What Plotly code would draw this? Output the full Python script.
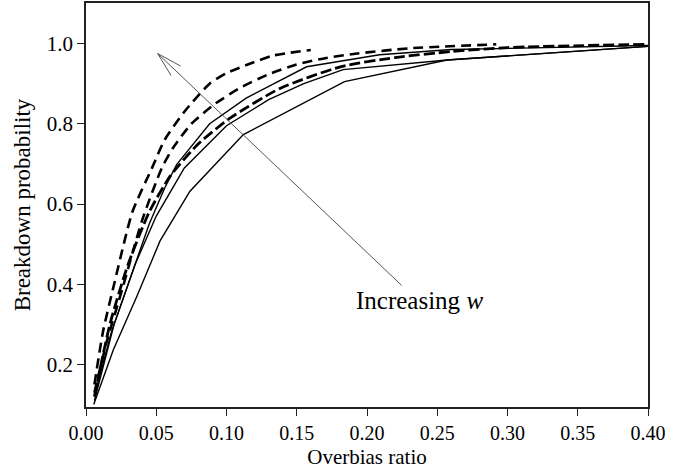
import plotly.graph_objects as go

# ---- data ----
A_x = [0.006, 0.012, 0.020, 0.033, 0.047, 0.056, 0.070, 0.088, 0.100, 0.117, 0.133, 0.160]
A_y = [0.15, 0.28, 0.40, 0.58, 0.69, 0.76, 0.83, 0.90, 0.926, 0.950, 0.970, 0.984]

B_x = [0.006, 0.015, 0.026, 0.040, 0.054, 0.062, 0.075, 0.092, 0.110, 0.129, 0.150, 0.171, 0.193, 0.230, 0.292]
B_y = [0.13, 0.26, 0.39, 0.56, 0.69, 0.74, 0.80, 0.85, 0.89, 0.922, 0.948, 0.964, 0.975, 0.988, 0.998]

C_x = [0.006, 0.018, 0.030, 0.045, 0.056, 0.0645, 0.088, 0.114, 0.157, 0.209, 0.260, 0.400]
C_y = [0.12, 0.28, 0.40, 0.55, 0.64, 0.698, 0.80, 0.864, 0.942, 0.972, 0.985, 0.995]

D_x = [0.006, 0.017, 0.030, 0.045, 0.060, 0.080, 0.1025, 0.138, 0.181, 0.220, 0.260, 0.300, 0.400]
D_y = [0.12, 0.30, 0.45, 0.58, 0.67, 0.75, 0.814, 0.888, 0.942, 0.965, 0.980, 0.990, 0.998]

E_x = [0.006, 0.020, 0.035, 0.050, 0.070, 0.100, 0.130, 0.155, 0.183, 0.257, 0.400]
E_y = [0.11, 0.30, 0.45, 0.57, 0.69, 0.795, 0.86, 0.90, 0.935, 0.959, 0.993]

F_x = [0.0055, 0.0194, 0.036, 0.0527, 0.074, 0.112, 0.184, 0.257, 0.400]
F_y = [0.10, 0.236, 0.368, 0.508, 0.632, 0.773, 0.905, 0.959, 0.993]

X_TICKS = [0.00, 0.05, 0.10, 0.15, 0.20, 0.25, 0.30, 0.35, 0.40]
Y_TICKS = [0.2, 0.4, 0.6, 0.8, 1.0]

# arrow: tail -> head, then barbs
ARROW_X = [0.2247, 0.0510, 0.0606, None, 0.0510, 0.0673]
ARROW_Y = [0.397, 0.975, 0.920, None, 0.975, 0.944]

FONT = "Liberation Serif"

fig = go.Figure()

series = [
    (A_x, A_y, dict(color="black", width=2.6, dash="10px,6px", shape="spline", smoothing=0.6)),
    (B_x, B_y, dict(color="black", width=2.6, dash="10px,6px", shape="spline", smoothing=0.6)),
    (C_x, C_y, dict(color="black", width=1.4)),
    (D_x, D_y, dict(color="black", width=2.8, dash="11px,4px", shape="spline", smoothing=0.6)),
    (E_x, E_y, dict(color="black", width=1.4)),
    (F_x, F_y, dict(color="black", width=1.4)),
]
for xs, ys, ln in series:
    fig.add_trace(go.Scatter(x=xs, y=ys, mode="lines", line=ln, showlegend=False,
                             hoverinfo="skip"))

fig.add_trace(go.Scatter(x=ARROW_X, y=ARROW_Y, mode="lines",
                         line=dict(color="#555555", width=1), showlegend=False,
                         hoverinfo="skip"))

fig.add_annotation(x=0.2377, y=0.36, xref="x", yref="y", text="Increasing <i>w</i>",
                   showarrow=False, xanchor="center", yanchor="middle",
                   font=dict(family=FONT, size=25, color="black"))

fig.update_layout(
    width=695, height=471,
    margin=dict(l=86, r=47, t=1, b=64),
    paper_bgcolor="white", plot_bgcolor="white",
    font=dict(family=FONT, color="black"),
)
fig.update_xaxes(
    range=[0, 0.4], tickvals=X_TICKS, tickformat=".2f",
    showgrid=False, zeroline=False,
    showline=True, linecolor="#222222", linewidth=1.5, mirror=True,
    ticks="outside", ticklen=7, tickcolor="#222222", tickwidth=1.2,
    tickfont=dict(family=FONT, size=20, color="black"),
    title=dict(text="Overbias ratio", font=dict(family=FONT, size=21, color="black"), standoff=7),
)
fig.update_yaxes(
    range=[0.094, 1.101], tickvals=Y_TICKS, tickformat=".1f",
    showgrid=False, zeroline=False,
    showline=True, linecolor="#222222", linewidth=1.5, mirror=True,
    ticks="outside", ticklen=7, tickcolor="#222222", tickwidth=1.2,
    tickfont=dict(family=FONT, size=21, color="black"),
    title=dict(text="Breakdown probability", font=dict(family=FONT, size=23, color="black"), standoff=10),
)

fig.write_html("out.html")
